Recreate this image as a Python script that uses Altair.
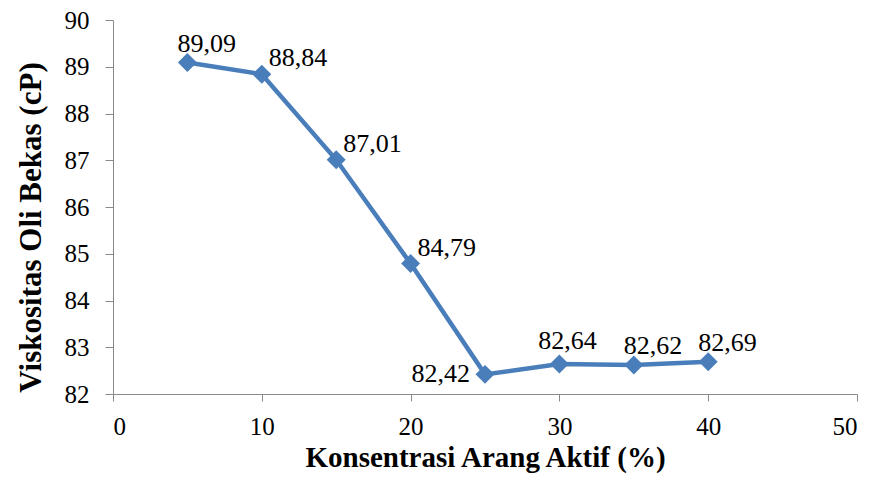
import altair as alt
import pandas as pd

konsentrasi = [5, 10, 15, 20, 25, 30, 35, 40]
viskositas = [89.09, 88.84, 87.01, 84.79, 82.42, 82.64, 82.62, 82.69]
label_text = ["89,09", "88,84", "87,01", "84,79", "82,42", "82,64", "82,62", "82,69"]
placement = ["upright", "right", "right", "right", "left", "above", "upright", "upright"]

df = pd.DataFrame({"x": konsentrasi, "y": viskositas, "lab": label_text, "pos": placement})

FONT = "Liberation Serif"
COLOR = "#4A7EBB"

xs = alt.X("x:Q", scale=alt.Scale(domain=[0, 50], nice=False),
           axis=alt.Axis(values=[0, 10, 20, 30, 40, 50], title="Konsentrasi Arang Aktif (%)",
                         grid=False, domainColor="#898989", tickColor="#898989", tickSize=7,
                         labelFontSize=25, labelFont=FONT, labelColor="black", labelPadding=13,
                         titleFont=FONT, titleFontSize=29, titleFontWeight="bold",
                         titleColor="black", titlePadding=4))
ys = alt.Y("y:Q", scale=alt.Scale(domain=[82, 90], nice=False, zero=False),
           axis=alt.Axis(values=list(range(82, 91)), title="Viskositas Oli Bekas (cP)",
                         grid=False, domainColor="#898989", tickColor="#898989", tickSize=8,
                         labelFontSize=25, labelFont=FONT, labelColor="black", labelPadding=16,
                         titleFont=FONT, titleFontSize=31, titleFontWeight="bold",
                         titleColor="black", titlePadding=17, titleY=207))

base = alt.Chart(df)
line = base.mark_line(color=COLOR, strokeWidth=4.5).encode(x=xs, y=ys)
pts = base.mark_point(shape="diamond", filled=True, size=360, color=COLOR, opacity=1).encode(x=xs, y=ys)

txt_kw = dict(font=FONT, fontSize=26, color="black", baseline="middle")
enc = dict(x="x:Q", y="y:Q", text="lab:N")
upright = base.transform_filter(alt.datum.pos == "upright").mark_text(
    align="left", dx=-10, dy=-19, **txt_kw).encode(**enc)
above = base.transform_filter(alt.datum.pos == "above").mark_text(
    align="center", dx=8, dy=-23, **txt_kw).encode(**enc)
right = base.transform_filter(alt.datum.pos == "right").mark_text(
    align="left", dx=7, dy=-16, **txt_kw).encode(**enc)
left = base.transform_filter(alt.datum.pos == "left").mark_text(
    align="right", dx=-15, dy=0, **txt_kw).encode(**enc)

chart = alt.layer(line, pts, upright, above, right, left).properties(
    width=744, height=374,
    autosize=alt.AutoSizeParams(type="none"),
    padding={"left": 105, "top": 12, "right": 9, "bottom": 83},
    background="white",
).configure_view(stroke=None)

chart.save("out.html", embed_options={"renderer": "svg", "actions": False})
